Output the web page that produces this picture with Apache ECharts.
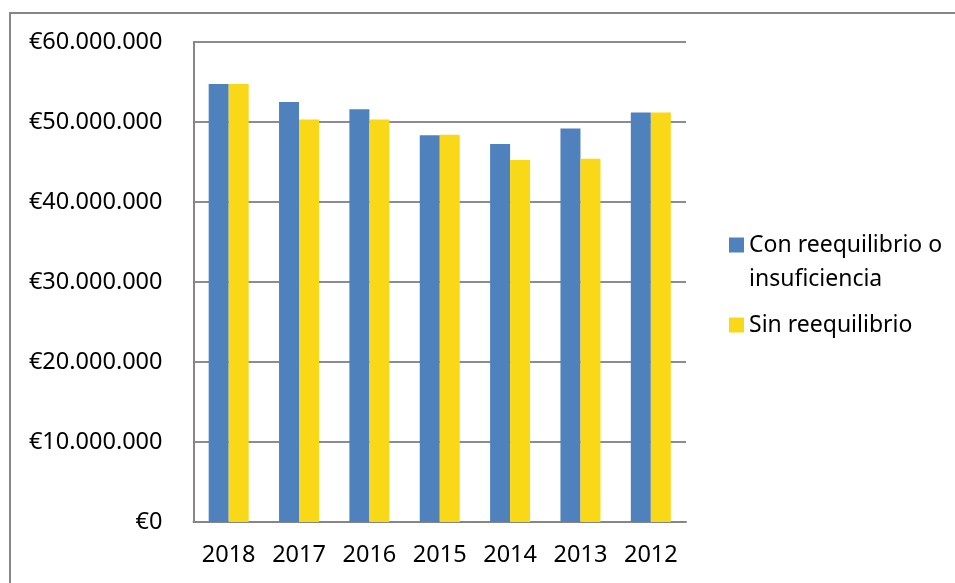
<!DOCTYPE html>
<html><head><meta charset="utf-8">
<script src="https://cdn.jsdelivr.net/npm/echarts@6/dist/echarts.min.js"></script>
<style>html,body{margin:0;padding:0;background:#fff}#c{width:955px;height:583px}</style>
</head><body><div id="c"></div>
<script>
const categories = ['2018','2017','2016','2015','2014','2013','2012'];
const conReequilibrio = [54750000, 52500000, 51600000, 48350000, 47250000, 49200000, 51200000];
const sinReequilibrio = [54750000, 50300000, 50300000, 48400000, 45250000, 45400000, 51200000];
const seriesNames = ['Con reequilibrio o insuficiencia', 'Sin reequilibrio'];
const yTicks = { min: 0, max: 60000000, interval: 10000000 };

const FONT = 'Noto Sans';
const FS = 23.5;
function fmtEuro(v){
  if (v === 0) return '€0';
  return '€' + String(v).replace(/\B(?=(\d{3})+(?!\d))/g, '.');
}
const chart = echarts.init(document.getElementById('c'));
chart.setOption({
  animation: false,
  textStyle: { fontFamily: FONT },
  graphic: [{
    type: 'polyline', silent: true,
    shape: { points: [[10, 590], [10, 13], [960, 13]] },
    style: { stroke: '#868686', lineWidth: 2, fill: null }
  }],
  grid: { left: 193.5, right: 269, top: 42, bottom: 61 },
  legend: [{
    orient: 'vertical', left: 724, top: 189,
    data: [seriesNames[0]],
    itemWidth: 15, itemHeight: 15, icon: 'rect',
    formatter: () => '\nCon reequilibrio o\ninsuficiencia',
    textStyle: { fontFamily: FONT, fontSize: 23, color: '#000', lineHeight: 34 }
  }, {
    orient: 'vertical', left: 724, top: 303,
    data: [seriesNames[1]],
    itemWidth: 15, itemHeight: 15, icon: 'rect',
    textStyle: { fontFamily: FONT, fontSize: 23, color: '#000', lineHeight: 34 }
  }],
  xAxis: {
    type: 'category', data: categories,
    axisLine: { lineStyle: { color: '#868686', width: 2 } },
    axisTick: { show: false },
    axisLabel: { color: '#000', fontSize: FS, fontFamily: FONT, margin: 21 }
  },
  yAxis: {
    type: 'value', min: yTicks.min, max: yTicks.max, interval: yTicks.interval,
    axisLine: { show: true, lineStyle: { color: '#868686', width: 2 } },
    axisTick: { show: false },
    splitLine: { lineStyle: { color: '#8c8c8c', width: 2 } },
    axisLabel: { color: '#000', fontSize: FS, fontFamily: FONT, margin: 31, formatter: fmtEuro }
  },
  series: [{
    name: seriesNames[0], type: 'bar', data: conReequilibrio,
    barWidth: 20, barGap: '0%',
    itemStyle: { color: '#4F81BD' }
  }, {
    name: seriesNames[1], type: 'bar', data: sinReequilibrio,
    barWidth: 20,
    itemStyle: { color: '#F8D817' }
  }]
});
</script></body></html>
